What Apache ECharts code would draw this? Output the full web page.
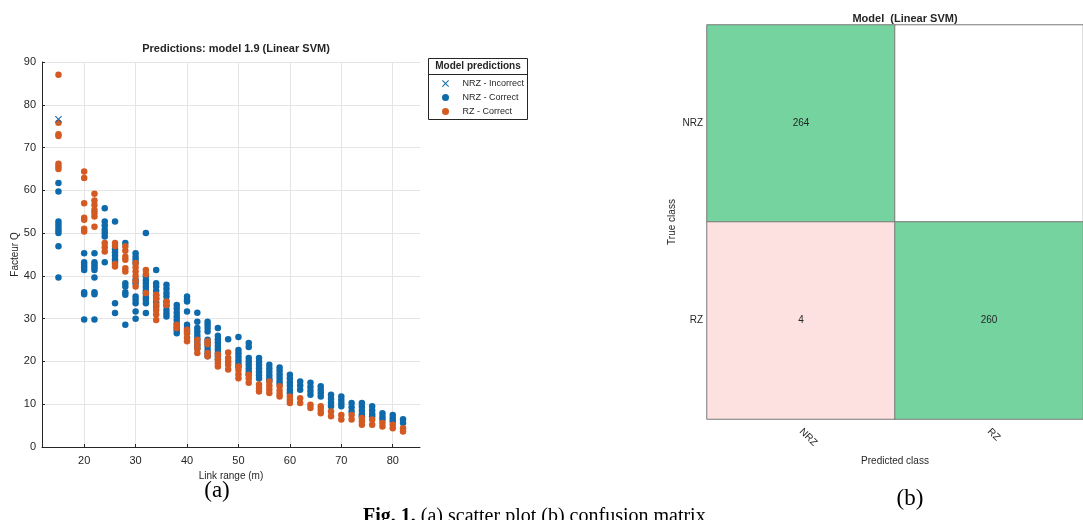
<!DOCTYPE html>
<html>
<head>
<meta charset="utf-8">
<script src="https://cdn.jsdelivr.net/npm/echarts@6/dist/echarts.min.js"></script>
<style>
  html, body { margin: 0; padding: 0; background: #fff; }
  #chart { width: 1083px; height: 520px; }
</style>
</head>
<body>
<div id="chart"></div>
<script>
// link range (m) of every column of points
const linkRange = [15, 20, 22, 24, 26, 28, 30, 32, 34, 36, 38, 40, 42, 44, 46, 48, 50,
  52, 54, 56, 58, 60, 62, 64, 66, 68, 70, 72, 74, 76, 78, 80, 82];

// Facteur Q, NRZ correctly predicted (one list per link range)
const nrzCorrect = [
  [61.7, 59.7, 52.7, 52.0, 51.3, 50.6, 50.0, 46.9, 39.6],
  [45.3, 43.2, 42.6, 42.0, 41.4, 36.2, 35.7, 29.8],
  [45.3, 43.2, 42.6, 42.0, 41.4, 39.6, 36.2, 35.7, 29.8],
  [55.8, 52.7, 51.8, 50.8, 50.0, 49.2, 43.2],
  [52.7, 46.3, 45.5, 44.7, 43.9, 43.3, 33.6, 31.3],
  [47.7, 38.3, 37.5, 36.2, 35.6, 28.6],
  [45.3, 44.5, 43.8, 43.0, 39.1, 38.3, 35.2, 34.4, 33.6, 31.7, 30.0],
  [50.0, 39.9, 39.0, 38.2, 37.4, 36.6, 35.8, 35.0, 34.4, 33.6, 31.3],
  [41.4, 38.3, 37.5, 36.5, 35.5, 34.7, 33.8, 32.8],
  [37.9, 37.0, 36.0, 35.2, 34.0, 33.0, 32.0, 31.2, 30.5],
  [33.2, 32.3, 31.4, 30.5, 29.7, 28.8, 28.0, 27.3, 26.6],
  [35.2, 34.4, 34.0, 31.7, 28.6, 27.8, 27.0],
  [31.4, 29.3, 27.8, 27.0, 26.2, 25.4, 24.6, 23.8, 23.1],
  [29.3, 28.6, 27.8, 27.0, 25.1, 24.3, 23.5, 22.7, 21.9, 21.2],
  [27.8, 26.0, 25.2, 24.4, 23.6, 22.8, 22.0, 21.2, 20.4],
  [25.2],
  [25.7, 22.7, 21.9, 21.1, 20.3, 19.5, 18.8],
  [24.3, 23.4, 20.8, 20.0, 19.2, 18.4, 17.6, 16.9],
  [20.8, 20.0, 19.2, 18.4, 17.6, 16.8, 16.0],
  [19.2, 18.4, 17.6, 16.8, 16.0, 15.5],
  [18.6, 17.8, 17.0, 16.2, 15.4, 14.8],
  [16.9, 16.0, 15.1, 14.3, 13.4, 12.6],
  [15.3, 14.4, 13.4],
  [15.0, 14.0, 13.1, 12.2],
  [14.2, 13.4, 12.6, 11.8],
  [12.2, 11.3, 10.4, 9.5],
  [11.8, 11.0, 10.2, 9.5],
  [10.3, 9.3, 8.3],
  [10.3, 9.4, 8.5, 7.6, 7.2],
  [9.5, 8.6, 7.7, 7.2],
  [7.9, 7.1, 6.4],
  [7.5, 6.7, 6.0],
  [6.5, 5.6]
];

// Facteur Q, RZ correctly predicted
const rzCorrect = [
  [87.0, 75.8, 73.1, 72.7, 66.2, 65.6, 65.0],
  [64.4, 62.9, 57.0, 53.6, 53.1, 51.0, 50.4],
  [59.2, 57.6, 56.6, 55.4, 54.7, 53.9, 51.5],
  [47.7, 46.7, 45.7],
  [47.7, 47.0, 42.8, 42.2],
  [46.9, 45.9, 44.5, 43.8, 41.8, 41.0],
  [43.0, 42.0, 41.0, 40.0, 38.8, 37.5],
  [41.4, 40.4, 36.0],
  [35.6, 34.6, 33.2, 32.0, 31.0, 29.7],
  [34.0, 33.2],
  [28.6, 27.8],
  [27.4, 26.6, 25.6, 24.7],
  [25.1, 24.0, 23.0, 22.0],
  [24.7, 24.0, 22.0, 21.2],
  [21.6, 20.5, 19.6, 18.8],
  [22.1, 20.8, 20.0, 19.2, 18.1],
  [18.8, 18.0, 17.0, 16.1],
  [16.9, 16.0, 15.0],
  [14.6, 13.8, 13.0],
  [15.3, 14.4, 13.5, 12.6],
  [14.2, 13.2, 12.4, 11.8],
  [11.8, 11.0, 10.3],
  [11.4, 10.3],
  [9.9, 9.1],
  [9.5, 8.7, 7.9],
  [8.3, 7.2],
  [7.5, 6.4],
  [7.5, 6.4],
  [6.8, 6.0, 5.2],
  [6.4, 5.2],
  [5.6, 4.8],
  [5.2, 4.4],
  [4.4, 3.6]
];

// NRZ incorrectly predicted: [link range, Facteur Q]
const nrzIncorrect = [[15, 76.6]];

const xTicks = [20, 30, 40, 50, 60, 70, 80];

// confusion matrix (rows = true class, columns = predicted class)
const classes = ['NRZ', 'RZ'];
const confusion = [
  [264, 0],
  [4, 260]
];

const blue = '#0f6aab';
const orange = '#d35a22';
const ink = '#262626';
const font = 'Liberation Sans';
const crossIcon = 'path://M1,0 L5,4 L9,0 L10,1 L6,5 L10,9 L9,10 L5,6 L1,10 L0,9 L4,5 L0,1 Z';

const pairs = (cols) => {
  const out = [];
  cols.forEach((vals, i) => vals.forEach(v => out.push([linkRange[i], v])));
  return out;
};

const cmData = [];
confusion.forEach((row, r) => row.forEach((v, c) => {
  let color = '#ffffff';
  if (v > 0) color = r === c ? '#74d39f' : '#fde1e1';
  cmData.push({ value: [c, r, v], itemStyle: { color: color } });
}));

const myChart = echarts.init(document.getElementById('chart'), null, { renderer: 'canvas' });

myChart.setOption({
  backgroundColor: '#fff',
  animation: false,
  textStyle: { fontFamily: font },
  title: [
    {
      text: 'Predictions: model 1.9 (Linear SVM)',
      left: 231, top: 38, textAlign: 'center',
      textStyle: { fontSize: 11, fontWeight: 'bold', color: ink, fontFamily: font }
    },
    {
      text: 'Model  (Linear SVM)',
      left: 900, top: 8, textAlign: 'center',
      textStyle: { fontSize: 11, fontWeight: 'bold', color: ink, fontFamily: font }
    },
    {
      text: '(a)',
      left: 212, top: 474, textAlign: 'center',
      textStyle: { fontSize: 23, fontWeight: 'normal', color: '#000', fontFamily: 'Liberation Serif' }
    },
    {
      text: '(b)',
      left: 905, top: 482, textAlign: 'center',
      textStyle: { fontSize: 23, fontWeight: 'normal', color: '#000', fontFamily: 'Liberation Serif' }
    },
    {
      text: '{b|Fig. 1.} (a) scatter plot (b) confusion matrix',
      left: 358, top: 502,
      textStyle: {
        fontSize: 20, fontWeight: 'normal', color: '#000', fontFamily: 'Liberation Serif',
        rich: { b: { fontSize: 20, fontWeight: 'bold', fontFamily: 'Liberation Serif', color: '#000' } }
      }
    }
  ],
  legend: {
    left: 437, top: 73,
    orient: 'vertical',
    itemWidth: 18, itemHeight: 7, itemGap: 3,
    textStyle: { fontSize: 9, lineHeight: 11, color: ink, fontFamily: font, padding: [0, 0, 0, 3] },
    data: [
      { name: 'NRZ - Incorrect', icon: crossIcon },
      { name: 'NRZ - Correct', icon: 'circle' },
      { name: 'RZ - Correct', icon: 'circle' }
    ],
    z: 10
  },
  graphic: [
    {
      type: 'rect', z: 1,
      shape: { x: 428.5, y: 58.5, width: 99, height: 61 },
      style: { fill: '#fff', stroke: ink, lineWidth: 1 }
    },
    {
      type: 'line', z: 2,
      shape: { x1: 428.5, y1: 74.5, x2: 527.5, y2: 74.5 },
      style: { stroke: ink, lineWidth: 1 }
    },
    {
      type: 'text', z: 2, x: 478, y: 66,
      style: {
        text: 'Model predictions', fill: ink, font: 'bold 10px "Liberation Sans"',
        textAlign: 'center', textVerticalAlign: 'middle'
      }
    }
  ],
  grid: [
    { left: 42, top: 62, width: 378, height: 385 },
    { left: 707, top: 25, width: 386, height: 394 }
  ],
  xAxis: [
    {
      gridIndex: 0, type: 'value', min: 11.8, max: 85.3,
      name: 'Link range (m)', nameLocation: 'middle', nameGap: 24,
      nameTextStyle: { fontSize: 10, color: ink },
      axisLine: { lineStyle: { color: ink } },
      axisTick: { inside: true, length: 3, customValues: xTicks, lineStyle: { color: ink } },
      axisLabel: { customValues: xTicks, fontSize: 11, color: ink, margin: 8 },
      splitLine: { show: true, lineStyle: { color: '#e5e5e5' } }
    },
    {
      gridIndex: 1, type: 'category', data: classes,
      name: 'Predicted class', nameLocation: 'middle', nameGap: 37,
      nameTextStyle: { fontSize: 10, color: ink },
      axisLine: { show: false }, axisTick: { show: false },
      axisLabel: { rotate: -45, fontSize: 10, color: ink, margin: 11 },
      splitLine: { show: false }
    }
  ],
  yAxis: [
    {
      gridIndex: 0, type: 'value', min: 0, max: 90, interval: 10,
      name: 'Facteur Q', nameLocation: 'middle', nameGap: 20,
      nameTextStyle: { fontSize: 10, color: ink },
      axisLine: { show: true, lineStyle: { color: ink } },
      axisTick: { show: true, inside: true, length: 3, lineStyle: { color: ink } },
      axisLabel: { fontSize: 11, color: ink, margin: 6 },
      splitLine: { show: true, lineStyle: { color: '#e5e5e5' } }
    },
    {
      gridIndex: 1, type: 'category', data: classes, inverse: true,
      name: 'True class', nameLocation: 'middle', nameGap: 30,
      nameTextStyle: { fontSize: 10, color: ink },
      axisLine: { show: false }, axisTick: { show: false },
      axisLabel: { fontSize: 10, color: ink, margin: 4 },
      splitLine: { show: false }
    }
  ],
  series: [
    {
      name: 'NRZ - Correct', type: 'scatter', xAxisIndex: 0, yAxisIndex: 0,
      symbol: 'circle', symbolSize: 6.5,
      itemStyle: { color: blue, opacity: 1 },
      data: pairs(nrzCorrect), z: 2
    },
    {
      name: 'RZ - Correct', type: 'scatter', xAxisIndex: 0, yAxisIndex: 0,
      symbol: 'circle', symbolSize: 6.5,
      itemStyle: { color: orange, opacity: 1 },
      data: pairs(rzCorrect), z: 3
    },
    {
      name: 'NRZ - Incorrect', type: 'scatter', xAxisIndex: 0, yAxisIndex: 0,
      symbol: crossIcon, symbolSize: 7,
      itemStyle: { color: blue, opacity: 1 },
      data: nrzIncorrect, z: 4
    },
    {
      name: 'confusion', type: 'heatmap', xAxisIndex: 1, yAxisIndex: 1,
      data: cmData,
      itemStyle: { borderColor: '#7a7a7a', borderWidth: 1 },
      label: {
        show: true, fontSize: 10, color: ink, fontFamily: font,
        formatter: p => (p.value[2] === 0 ? '' : String(p.value[2]))
      },
      emphasis: { disabled: true }
    }
  ]
});
</script>
</body>
</html>
